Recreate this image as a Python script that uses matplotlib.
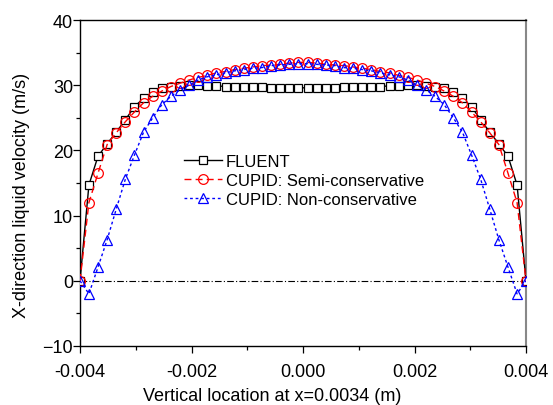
import matplotlib
matplotlib.use("Agg")
import matplotlib.pyplot as plt
from matplotlib.ticker import MultipleLocator, FormatStrFormatter

plt.rcParams['font.family'] = ['Liberation Sans', 'DejaVu Sans']

# grid positions (m), wall points at +-0.004
x = [-0.004,
     -0.00384, -0.003677, -0.003513, -0.00335, -0.003186, -0.003023, -0.00286, -0.002696,
     -0.002533, -0.002369, -0.002206, -0.002043, -0.001879, -0.001716, -0.001552, -0.001389,
     -0.001226, -0.001062, -0.000899, -0.000735, -0.000572, -0.000409, -0.000245, -0.000082,
     0.000082, 0.000245, 0.000409, 0.000572, 0.000735, 0.000899, 0.001062, 0.001226,
     0.001389, 0.001552, 0.001716, 0.001879, 0.002043, 0.002206, 0.002369, 0.002533,
     0.002696, 0.00286, 0.003023, 0.003186, 0.00335, 0.003513, 0.003677, 0.00384,
     0.004]

fluent = [0,
          14.7, 19.1, 21.0, 22.8, 24.7, 26.7, 28.0, 28.9, 29.5, 29.7, 29.9, 30.0,
          30.0, 29.9, 29.9, 29.8, 29.8, 29.7, 29.7, 29.7, 29.6, 29.6, 29.6, 29.6,
          29.6, 29.6, 29.6, 29.6, 29.7, 29.7, 29.7, 29.8, 29.8, 29.9, 29.9, 30.0,
          30.0, 29.9, 29.7, 29.5, 28.9, 28.0, 26.7, 24.7, 22.8, 21.0, 19.1, 14.7,
          0]

cupid_semi = [0,
              12.0, 16.5, 20.9, 22.7, 24.4, 25.9, 27.3, 28.3, 29.1, 29.8, 30.3, 30.8,
              31.2, 31.5, 31.9, 32.1, 32.4, 32.6, 32.8, 33.0, 33.1, 33.2, 33.4, 33.5,
              33.5, 33.4, 33.2, 33.1, 33.0, 32.8, 32.6, 32.4, 32.1, 31.9, 31.5, 31.2,
              30.8, 30.3, 29.8, 29.1, 28.3, 27.3, 25.9, 24.4, 22.7, 20.9, 16.5, 12.0,
              0]

cupid_non = [0,
             -2.0, 2.1, 6.3, 11.0, 15.6, 19.3, 22.8, 25.0, 27.0, 28.3, 29.3, 30.0,
             30.8, 31.3, 31.6, 31.9, 32.2, 32.4, 32.6, 32.7, 33.0, 33.1, 33.2, 33.3,
             33.3, 33.2, 33.1, 33.0, 32.7, 32.6, 32.4, 32.2, 31.9, 31.6, 31.3, 30.8,
             30.0, 29.3, 28.3, 27.0, 25.0, 22.8, 19.3, 15.6, 11.0, 6.3, 2.1, -2.0,
             0]

labels = ['FLUENT', 'CUPID: Semi-conservative', 'CUPID: Non-conservative']

fig = plt.figure(figsize=(5.53, 4.06), dpi=100)
ax = fig.add_axes([80 / 553, 59 / 406, 446 / 553, 326 / 406])

ax.axhline(0, color='black', lw=0.8, ls=(0, (6, 2, 1, 2)), zorder=1)

ax.plot(x, fluent, color='black', lw=1.0, ls='-', marker='s', markersize=6,
        markerfacecolor='white', markeredgecolor='black', markeredgewidth=0.9,
        label=labels[0], zorder=3)
ax.plot(x, cupid_semi, color='#ff0000', lw=1.0, ls=(0, (5, 3)), marker='o', markersize=7,
        markerfacecolor='none', markeredgecolor='#ff0000', markeredgewidth=0.9,
        label=labels[1], zorder=4)
ax.plot(x, cupid_non, color='#0000ff', lw=1.0, ls=(0, (2, 2)), marker='^', markersize=7,
        markerfacecolor='none', markeredgecolor='#0000ff', markeredgewidth=0.9,
        label=labels[2], zorder=5)

ax.set_xlim(-0.004, 0.004)
ax.set_ylim(-10, 40)
ax.xaxis.set_major_locator(MultipleLocator(0.002))
ax.xaxis.set_minor_locator(MultipleLocator(0.001))
ax.xaxis.set_major_formatter(FormatStrFormatter('%.3f'))
ax.yaxis.set_major_locator(MultipleLocator(10))
ax.yaxis.set_minor_locator(MultipleLocator(5))

ax.tick_params(which='both', direction='out', top=False, right=False, labelsize=13)
ax.tick_params(which='major', length=5, width=0.9)
ax.tick_params(which='minor', length=3, width=0.9)
ax.tick_params(axis='x', pad=7)
ax.tick_params(axis='y', pad=0)

for s in ['left', 'bottom', 'top']:
    ax.spines[s].set_linewidth(1.0)
    ax.spines[s].set_color('black')
ax.spines['right'].set_color('#888888')
ax.spines['right'].set_linewidth(1.5)

ax.set_xlabel('Vertical location at x=0.0034 (m)', fontsize=13)
ax.set_ylabel('X-direction liquid velocity (m/s)', fontsize=13)
ax.xaxis.set_label_coords((272 - 80) / 446, -(401 - 347) / 326, transform=ax.transAxes)
ax.xaxis.label.set_va('baseline')
ax.yaxis.set_label_coords(-(80 - 13) / 446, (347 - 195) / 326, transform=ax.transAxes)
ax.yaxis.label.set_va('top')

ax.legend(loc='upper left', bbox_to_anchor=(0.218, 0.61), frameon=False, fontsize=12,
          handlelength=2.3, handletextpad=0.2, labelspacing=0.25, borderaxespad=0)

fig.savefig('out.png', dpi=100)
